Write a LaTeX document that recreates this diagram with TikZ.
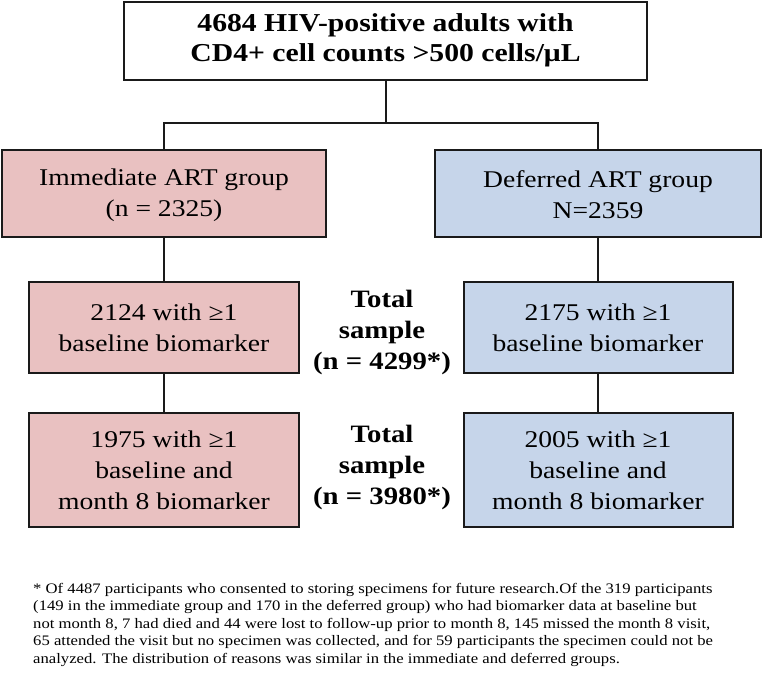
\documentclass[tikz,border=0pt]{standalone}
\usepackage{fontspec}
\setmainfont[FakeStretch=1.15]{Liberation Serif}
\definecolor{pinkfill}{HTML}{E9C1C1}
\definecolor{bluefill}{HTML}{C6D5EA}
\definecolor{edge}{HTML}{1A1A1A}
\begin{document}
\begin{tikzpicture}[x=1pt,y=-1pt,
  box/.style={draw=edge, line width=2pt, align=center, inner sep=0pt,
              font=\fontsize{24}{31}\selectfont},
  pinkbox/.style={box, fill=pinkfill},
  bluebox/.style={box, fill=bluefill},
  topbox/.style={draw=edge, line width=2pt, fill=white, align=center, inner sep=0pt,
              font=\bfseries\fontsize{25.8}{30}\selectfont},
  total/.style={align=center, inner sep=0pt, font=\bfseries\fontsize{25}{31}\selectfont},
  note/.style={align=left, inner sep=0pt, font=\fontsize{14.5}{17.5}\selectfont},
  link/.style={draw=edge, line width=2pt}]
\useasboundingbox (0,0) rectangle (762,675);
\fill[white] (0,0) rectangle (762,675);

\node[topbox, minimum width=523pt, minimum height=78pt] (top) at (385.5,40.5)
  {4684 HIV-positive adults with\\CD4+ cell counts >500 cells/μL};

\node[pinkbox, minimum width=324pt, minimum height=87pt] (L1) at (164,193.5)
  {\rule{0pt}{20pt}Immediate ART group\\(n = 2325)};
\node[bluebox, minimum width=326pt, minimum height=87pt] (R1) at (598,193.5)
  {\rule{0pt}{20pt}Deferred ART group\\N=2359};

\node[pinkbox, minimum width=270pt, minimum height=91pt] (L2) at (164,327.5)
  {2124 with ≥1\\baseline biomarker};
\node[bluebox, minimum width=269pt, minimum height=91pt] (R2) at (598,327.5)
  {2175 with ≥1\\baseline biomarker};

\node[pinkbox, minimum width=270pt, minimum height=114pt] (L3) at (164,470)
  {1975 with ≥1\\baseline and\\month 8 biomarker};
\node[bluebox, minimum width=269pt, minimum height=114pt] (R3) at (598,470)
  {2005 with ≥1\\baseline and\\month 8 biomarker};

\node[total] (T1) at (382,332) {Total\\sample\\(n = 4299*)};
\node[total] (T2) at (382,467) {Total\\sample\\(n = 3980*)};

\coordinate (jt) at (385.5,123);
\draw[link] (top.south) -- (jt);
\draw[link] (L1.north) |- (jt) -| (R1.north);
\draw[link] (L1.south) -- (L2.north);
\draw[link] (R1.south) -- (R2.north);
\draw[link] (L2.south) -- (L3.north);
\draw[link] (R2.south) -- (R3.north);

\node[note, anchor=north west] (fn) at (33,583)
  {* Of 4487 participants who consented to storing specimens for future research.Of the 319 participants\\
   (149 in the immediate group and 170 in the deferred group) who had biomarker data at baseline but\\
   not month 8, 7 had died and 44 were lost to follow-up prior to month 8, 145 missed the month 8 visit,\\
   65 attended the visit but no specimen was collected, and for 59 participants the specimen could not be\\
   analyzed. The distribution of reasons was similar in the immediate and deferred groups.};
\end{tikzpicture}
\end{document}
